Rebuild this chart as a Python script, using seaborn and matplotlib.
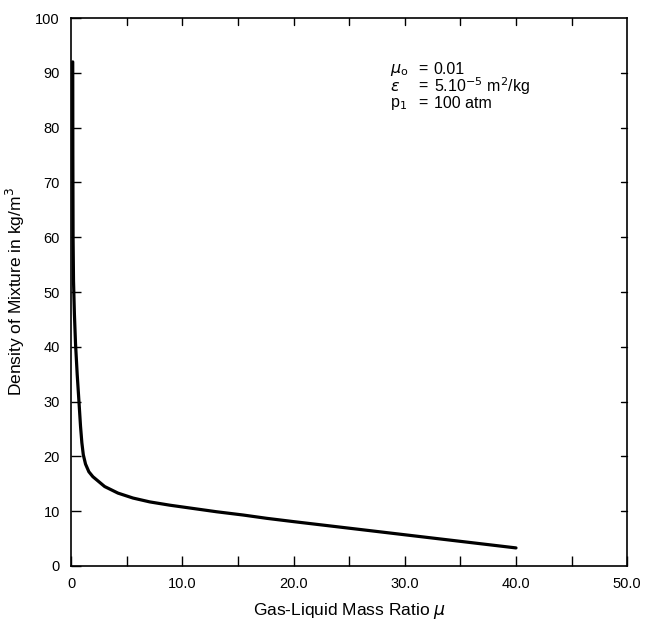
import matplotlib
matplotlib.use("Agg")
import matplotlib.pyplot as plt
import seaborn as sns
import pandas as pd
from matplotlib.ticker import MultipleLocator, FixedLocator, FixedFormatter

# Gas-liquid mass ratio and mixture density along the curve
mass_ratio = [0.15, 0.16, 0.18, 0.22, 0.30, 0.40, 0.55, 0.70, 0.85, 0.97,
              1.10, 1.30, 1.60, 1.96, 3.02, 4.22, 5.57, 7.07, 8.87, 10.97,
              13.08, 15.48, 17.59, 20.0, 25.0, 30.0, 35.0, 40.0]
density = [92.0, 75.0, 60.0, 52.0, 46.0, 40.6, 35.0, 30.3, 25.5, 22.5,
           20.3, 18.6, 17.2, 16.3, 14.5, 13.3, 12.4, 11.7, 11.1, 10.5,
           9.9, 9.3, 8.7, 8.1, 6.9, 5.7, 4.5, 3.3]

x_ticks = [0, 10, 20, 30, 40, 50]
x_tick_labels = ["0", "10.0", "20.0", "30.0", "40.0", "50.0"]
y_ticks = [0, 10, 20, 30, 40, 50, 60, 70, 80, 90, 100]

sns.set_style("ticks")
plt.rcParams["font.family"] = ["Liberation Sans", "DejaVu Sans"]
plt.rcParams["mathtext.fontset"] = "dejavusans"
plt.rcParams["text.color"] = "black"
plt.rcParams["axes.labelcolor"] = "black"
plt.rcParams["xtick.color"] = "black"
plt.rcParams["ytick.color"] = "black"

df = pd.DataFrame({"mu": mass_ratio, "rho": density})

fig = plt.figure(figsize=(6.52, 6.23), dpi=100)
ax = fig.add_axes([0.109, 0.0915, 0.853, 0.8795])

sns.lineplot(data=df, x="mu", y="rho", ax=ax, color="black", linewidth=2.3,
             sort=False, estimator=None)

ax.set_xlim(0, 50)
ax.set_ylim(0, 100)
ax.xaxis.set_major_locator(FixedLocator(x_ticks))
ax.xaxis.set_major_formatter(FixedFormatter(x_tick_labels))
ax.xaxis.set_minor_locator(MultipleLocator(5))
ax.yaxis.set_major_locator(FixedLocator(y_ticks))

ax.tick_params(which="both", direction="in", color="black", width=1.0,
               labelcolor="black")
ax.tick_params(which="major", length=7, labelsize=10.5)
ax.tick_params(which="minor", length=7)
ax.tick_params(axis="x", which="both", top=False, pad=8)
ax.tick_params(axis="y", which="both", right=False, pad=8)

# ticks on the top and right edges of the frame
for val in [5, 10, 15, 20, 25, 30, 35, 40, 45]:
    ax.plot([val, val], [100, 98.7], color="black", lw=1.0, clip_on=False)
for val in y_ticks[1:-1]:
    ax.plot([50, 49.4], [val, val], color="black", lw=1.0, clip_on=False)

for spine in ax.spines.values():
    spine.set_visible(True)
    spine.set_linewidth(1.2)
    spine.set_color("black")

ax.set_xlabel(r"Gas-Liquid Mass Ratio $\mu$", fontsize=12.5, labelpad=7)
ax.set_ylabel(r"Density of Mixture in kg/m$^3$", fontsize=12.5, labelpad=6)

# parameter block
rows = [(r"$\mu_{\rm o}$", "0.01"),
        (r"$\varepsilon$", r"5.10$^{-5}$ m$^2$/kg"),
        (r"p$_1$", "100 atm")]
for i, (sym, val) in enumerate(rows):
    yv = 90.6 - i * 3.1
    ax.text(28.7, yv, sym, fontsize=11.5, va="center", ha="left")
    ax.text(31.2, yv, "=", fontsize=11.5, va="center", ha="left")
    ax.text(32.6, yv, val, fontsize=11.5, va="center", ha="left")

fig.savefig("out.png", dpi=100)
